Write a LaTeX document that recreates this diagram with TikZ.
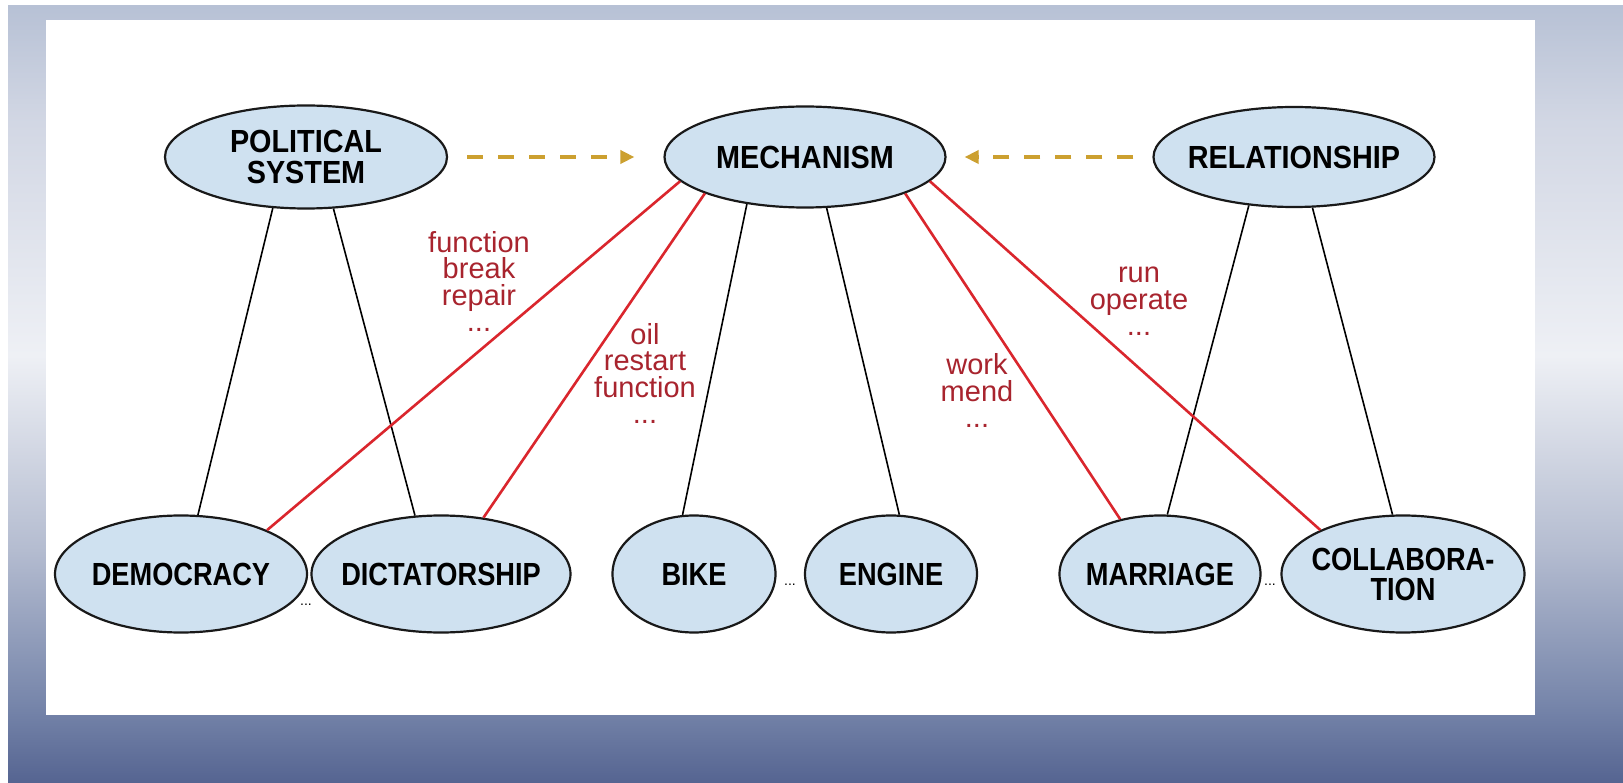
\documentclass[tikz,border=0pt]{standalone}
\usepackage{fontspec}
\setmainfont{Liberation Sans}
\newfontfamily\topfont{Liberation Sans}[FakeStretch=0.9]
\newfontfamily\botfont{Liberation Sans}[FakeStretch=0.85]
\usetikzlibrary{shapes.geometric,arrows.meta}
\definecolor{nodefill}{RGB}{207,225,240}
\definecolor{redline}{RGB}{218,38,45}
\definecolor{redtext}{RGB}{168,36,46}
\definecolor{goldc}{RGB}{204,160,48}
\definecolor{bgA}{RGB}{85,100,145}
\definecolor{bgB}{RGB}{118,133,170}
\definecolor{bgC}{RGB}{180,188,208}
\definecolor{bgD}{RGB}{238,240,245}
\definecolor{bgE}{RGB}{210,215,228}
\definecolor{bgF}{RGB}{183,193,213}
\pgfdeclareverticalshading{bgshade}{100bp}{color(0bp)=(bgA); color(25bp)=(bgA); color(30bp)=(bgB); color(40bp)=(bgC); color(52.5bp)=(bgD); color(67.5bp)=(bgE); color(75bp)=(bgF); color(100bp)=(bgF)}
\begin{document}
\begin{tikzpicture}[x=1pt,y=-1pt,
  ell/.style={ellipse, draw=black!90, line width=2.2pt, fill=nodefill, inner sep=0pt},
  toplab/.style={font=\topfont\bfseries\fontsize{32}{31}\selectfont, align=center, inner sep=0pt, text=black},
  botlab/.style={font=\botfont\bfseries\fontsize{32}{30}\selectfont, align=center, inner sep=0pt, text=black},
  blk/.style={draw=black, line width=1.6pt},
  redl/.style={draw=redline, line width=2.6pt},
  rlab/.style={font=\fontsize{29}{26.5}\selectfont, text=redtext, align=center, inner sep=0pt},
  goldarrow/.style={draw=goldc, line width=3.5pt, dash pattern=on 16pt off 15pt, -{Triangle[length=14pt,width=13pt]}},
  tinydots/.style={font=\fontsize{14}{14}\selectfont, inner sep=0pt, text=black}
]
\useasboundingbox (0,0) rectangle (1623,783);
\fill[white] (0,0) rectangle (1623,783);
\shade[shading=bgshade] (8,6) rectangle (1623,783);
\fill[white] (46,20) rectangle (1535,715);

% top row
\node[ell, minimum width=282pt, minimum height=103pt, label={[toplab]center:POLITICAL\\SYSTEM}] (pol) at (306,157) {};
\node[ell, minimum width=281pt, minimum height=101pt, label={[toplab]center:MECHANISM}] (mech) at (805,157) {};
\node[ell, minimum width=281pt, minimum height=100pt, label={[toplab]center:RELATIONSHIP}] (rel) at (1294,157) {};

% bottom row
\node[ell, minimum width=252pt, minimum height=117pt, label={[botlab]center:DEMOCRACY}] (dem) at (181,574) {};
\node[ell, minimum width=259pt, minimum height=117pt, label={[botlab]center:DICTATORSHIP}] (dic) at (441,574) {};
\node[ell, minimum width=163pt, minimum height=117pt, label={[botlab]center:BIKE}] (bike) at (694,574) {};
\node[ell, minimum width=172pt, minimum height=117pt, label={[botlab]center:ENGINE}] (eng) at (891,574) {};
\node[ell, minimum width=201pt, minimum height=117pt, label={[botlab]center:MARRIAGE}] (mar) at (1160,574) {};
\node[ell, minimum width=243pt, minimum height=117pt, label={[botlab]center:COLLABORA-\\TION}] (col) at (1403,574) {};

% dots between bottom nodes
\node[tinydots] (d1) at (306,605) {...};
\node[tinydots] (d2) at (790,585) {...};
\node[tinydots] (d3) at (1270,585) {...};

% black connectors
\draw[blk] (pol.237) -- (dem.74);
\draw[blk] (pol.298) -- (dic.114);
\draw[blk] (mech.219) -- (bike.101);
\draw[blk] (mech.293) -- (eng.82);
\draw[blk] (rel.227) -- (mar.83);
\draw[blk] (rel.290) -- (col.100);

% red connectors
\draw[redl] (mech.191) -- (dem.27);
\draw[redl] (mech.200) -- (dic.53);
\draw[redl] (mech.340) -- (mar.126);
\draw[redl] (mech.349) -- (col.152);

% red labels (anchored at the baseline of the last line)
\node[rlab, anchor=base] (l1) at (479,332) {function\\break\\repair\\...};
\node[rlab, anchor=base] (l2) at (645,424) {oil\\restart\\function\\...};
\node[rlab, anchor=base] (l3) at (977,428) {work\\mend\\...};
\node[rlab, anchor=base] (l4) at (1139,336) {run\\operate\\...};

% dashed arrows
\draw[goldarrow, shorten <=19pt, shorten >=29pt] (pol) -- (mech);
\draw[goldarrow, shorten <=19pt, shorten >=18pt] (rel) -- (mech);
\end{tikzpicture}
\end{document}
